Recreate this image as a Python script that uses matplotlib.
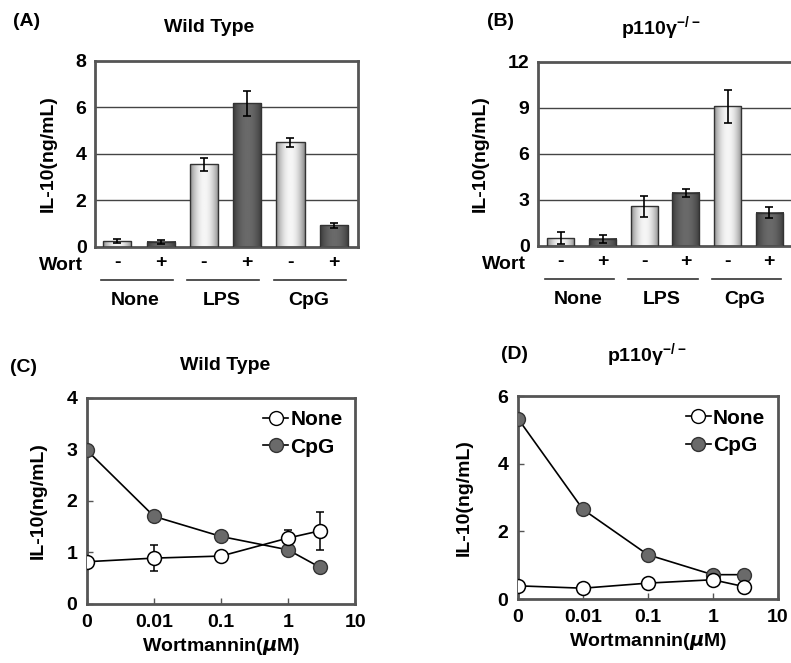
import numpy as np
import matplotlib
matplotlib.use('Agg')
import matplotlib.pyplot as plt
from matplotlib.colors import LinearSegmentedColormap
from matplotlib.lines import Line2D

plt.rcParams['font.family'] = ['Liberation Sans', 'DejaVu Sans']
plt.rcParams['font.weight'] = 'bold'
plt.rcParams['mathtext.default'] = 'regular'

# ---- data ----
groups = ['None', 'LPS', 'CpG']
wort = ['-', '+', '-', '+', '-', '+']

wt_bar = [0.25, 0.22, 3.56, 6.18, 4.50, 0.93]
wt_bar_err = [0.10, 0.10, 0.28, 0.55, 0.20, 0.12]

ko_bar = [0.52, 0.46, 2.60, 3.48, 9.10, 2.17]
ko_bar_err = [0.40, 0.28, 0.68, 0.26, 1.08, 0.35]

dose = [0.001, 0.01, 0.1, 1, 3]   # 0 drawn at 0.001 on the log axis
dose_ticks = [0.001, 0.01, 0.1, 1, 10]
dose_labels = ['0', '0.01', '0.1', '1', '10']

wt_none = [0.82, 0.89, 0.93, 1.28, 1.42]
wt_none_err = [0.0, 0.25, 0.0, 0.15, 0.37]
wt_cpg = [2.98, 1.70, 1.31, 1.05, 0.71]

ko_none = [0.39, 0.32, 0.47, 0.57, 0.37]
ko_cpg = [5.33, 2.65, 1.31, 0.72, 0.72]

FRAME = '#555555'
FS = 14
light_cmap = LinearSegmentedColormap.from_list('light', ['#8c8c8c', '#f6f6f6'])
dark_cmap = LinearSegmentedColormap.from_list('dark', ['#3a3a3a', '#6a6a6a'])
shade = 1 - np.abs(np.linspace(-1, 1, 60)) ** 2

fig = plt.figure(figsize=(7.91, 6.63), dpi=100)


def style_frame(ax):
    for s in ax.spines.values():
        s.set_linewidth(2)
        s.set_color(FRAME)


def bar_panel(ax, vals, errs, ymax, yticks, xlim):
    x = np.arange(len(vals))
    w = 0.65
    for i, (xi, v) in enumerate(zip(x, vals)):
        cmap = light_cmap if i % 2 == 0 else dark_cmap
        ax.imshow(shade[np.newaxis, :], extent=[xi - w / 2, xi + w / 2, 0, v],
                  aspect='auto', cmap=cmap, vmin=0, vmax=1, zorder=2)
    ax.bar(x, vals, width=w, facecolor='none', edgecolor='#333333', lw=1, zorder=3)
    ax.errorbar(x, vals, yerr=errs, fmt='none', ecolor='black', capsize=3,
                elinewidth=1.2, capthick=1.2, zorder=4)
    for t in yticks[1:-1]:
        ax.axhline(t, color='#444444', lw=1, zorder=1)
    ax.set_xlim(*xlim)
    ax.set_ylim(0, ymax)
    ax.set_yticks(yticks)
    ax.tick_params(axis='y', length=0, labelsize=FS, pad=6)
    ax.set_xticks(x, wort)
    ax.tick_params(axis='x', length=0, labelsize=FS, pad=5)
    style_frame(ax)
    ax.set_ylabel('IL-10(ng/mL)', fontsize=FS, fontweight='bold', labelpad=14)
    trans = ax.get_xaxis_transform()
    ax.text(-0.045, -0.1, 'Wort', transform=ax.transAxes, ha='right',
            va='center', fontsize=FS, fontweight='bold')
    for g, name in enumerate(groups):
        ax.plot([2 * g - 0.38, 2 * g + 1.28], [-0.18, -0.18], color='#333333',
                lw=1.2, transform=trans, clip_on=False)
        ax.text(2 * g + 0.42, -0.29, name, transform=trans, ha='center',
                va='center', fontsize=FS, fontweight='bold')


def line_panel(ax, none, cpg, none_err, ymax, yticks, lpad):
    ax.plot(dose, none, color='black', lw=1.2, zorder=2)
    ax.plot(dose, cpg, color='black', lw=1.2, zorder=2)
    ax.errorbar(dose, none, yerr=none_err, fmt='none', ecolor='black',
                capsize=3, elinewidth=1.1, capthick=1.1, zorder=2)
    ax.plot(dose, cpg, 'o', ms=10, mfc='#6a6a6a', mec='#333333', mew=1, zorder=3)
    ax.plot(dose, none, 'o', ms=10, mfc='white', mec='black', mew=1.1, zorder=4)
    ax.set_xscale('log')
    ax.set_xlim(0.001, 10)
    ax.set_ylim(0, ymax)
    ax.set_xticks(dose_ticks, dose_labels)
    ax.minorticks_off()
    ax.set_yticks(yticks)
    ax.tick_params(direction='in', length=4, width=1, labelsize=FS, pad=7,
                   color=FRAME)
    style_frame(ax)
    ax.set_ylabel('IL-10(ng/mL)', fontsize=FS, fontweight='bold', labelpad=lpad)
    ax.set_xlabel(r'Wortmannin($\mathit{\mu}$M)', fontsize=FS,
                  fontweight='bold', labelpad=4)
    handles = [
        Line2D([], [], color='black', lw=1.2, marker='o', ms=10,
               mfc='white', mec='black'),
        Line2D([], [], color='black', lw=1.2, marker='o', ms=10,
               mfc='#6a6a6a', mec='#333333'),
    ]
    leg = ax.legend(handles, ['None', 'CpG'], loc='upper right', frameon=False,
                    fontsize=15, handlelength=1.2, handletextpad=0.1,
                    borderaxespad=0.2, labelspacing=0.4)
    for t in leg.get_texts():
        t.set_fontweight('bold')


# (A) wild type bars
axA = fig.add_axes([0.120, 0.6275, 0.3325, 0.2805])
bar_panel(axA, wt_bar, wt_bar_err, 8, [0, 2, 4, 6, 8], (-0.52, 5.56))
fig.text(0.016, 0.968, '(A)', fontsize=FS, fontweight='bold', va='center')
fig.text(0.265, 0.958, 'Wild Type', fontsize=FS, fontweight='bold',
         ha='center', va='center')

# (B) p110gamma-/- bars
axB = fig.add_axes([0.680, 0.629, 0.34, 0.2775])
bar_panel(axB, ko_bar, ko_bar_err, 12, [0, 3, 6, 9, 12], (-0.55, 5.9))
fig.text(0.616, 0.968, '(B)', fontsize=FS, fontweight='bold', va='center')
fig.text(0.835, 0.958, r'p110γ$^{-/-}$', fontsize=FS, fontweight='bold',
         ha='center', va='center')

# (C) wild type dose response
axC = fig.add_axes([0.110, 0.089, 0.339, 0.311])
line_panel(axC, wt_none, wt_cpg, wt_none_err, 4, [0, 1, 2, 3, 4], 14)
fig.text(0.013, 0.446, '(C)', fontsize=FS, fontweight='bold', va='center')
fig.text(0.285, 0.449, 'Wild Type', fontsize=FS, fontweight='bold',
         ha='center', va='center')

# (D) p110gamma-/- dose response
axD = fig.add_axes([0.655, 0.0965, 0.328, 0.306])
line_panel(axD, ko_none, ko_cpg, [0] * 5, 6, [0, 2, 4, 6], 18)
fig.text(0.634, 0.465, '(D)', fontsize=FS, fontweight='bold', va='center')
fig.text(0.818, 0.465, r'p110γ$^{-/-}$', fontsize=FS, fontweight='bold',
         ha='center', va='center')

fig.savefig('out.png', dpi=100)
